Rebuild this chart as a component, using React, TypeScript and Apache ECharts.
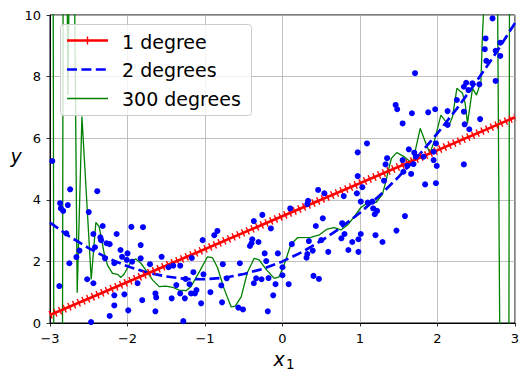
import React, { useEffect, useRef } from "react";
import * as echarts from "echarts";

// ---- data ----
const X_MIN = -3;
const X_MAX = 3;
const Y_MIN = 0;
const Y_MAX = 10;

const SCATTER_X = [
  -2.97, -2.74, -2.39, -2.87, -2.77, -2.86, -2.83, -2.5, -2.32, -1.95, -1.8, -2.79, -2.44, -2.14, -2.35, -2.34,
  -2.27, -2.23, -1.83, -2.42, -2.09, -2.0, -2.62, -2.07, -2.66, -1.56, -1.83, -2.29, -2.01, -1.94, -2.75, -2.17,
  -1.71, -2.52, -2.44, -2.88, -1.87, -2.17, -2.04, -1.64, -1.63, -1.81, -2.17, -1.99, -1.64, -2.23, -2.47,
  -0.26, -0.37, -0.15, -0.84, -0.88, -1.03, -0.39, -0.31, -0.42, -0.4, -1.17, -0.23, -0.06, -1.47, -1.41, -1.32,
  -0.55, -0.77, -0.21, 0.0, -1.15, -1.02, -1.25, -0.72, -0.34, -0.27, -0.18, -1.37, -1.2, -0.37, -0.79, -0.09,
  0.08, -1.32, -1.18, -1.11, -1.13, -0.93, -1.43, -1.26, -0.12, -1.05, -0.78, -0.57, -0.51, -0.19, -1.28,
  0.97, 1.35, 1.33, 1.55, 1.56, 0.97, 0.46, 0.54, 0.33, 0.32, 0.1, 0.79, 0.96, 1.03, 1.01, 1.1, 1.16, 1.17,
  1.22, 1.19, 1.58, 0.52, 0.43, 0.77, 0.8, 0.76, 1.01, 0.98, 1.47, 1.2, 0.9, 1.29, 0.12, 0.34, 0.5, 0.85, 0.98,
  0.59, 0.39, 0.32, 0.31, 0.0, 0.4, 0.47, 1.31, 1.84, 1.98, 2.71, 2.62, 2.61, 2.81, 2.75, 2.81, 2.63, 2.75,
  1.71, 2.37, 2.34, 2.45, 2.54, 2.4, 2.25, 1.46, 1.48, 1.67, 1.88, 1.97, 2.13, 2.34, 1.55, 2.13, 2.35, 2.41,
  2.55, 1.09, 1.98, 1.63, 1.7, 1.72, 1.69, 1.61, 1.66, 1.82, 1.95, 1.95, 1.99, 2.34,
];
const SCATTER_Y = [
  5.26, 4.34, 4.28, 3.89, 3.83, 3.72, 3.64, 3.6, 3.15, 3.12, 3.11, 2.91, 2.89, 2.89, 2.78, 2.69,
  2.59, 2.56, 2.53, 2.46, 2.37, 2.26, 2.35, 2.15, 2.14, 2.15, 2.1, 2.1, 2.05, 1.99, 1.94, 1.94,
  1.91, 1.42, 1.29, 1.2, 1.29, 0.9, 0.93, 0.96, 0.83, 0.74, 0.57, 0.41, 0.38, 0.23, 0.03,
  3.51, 3.31, 3.07, 2.99, 2.85, 2.69, 2.72, 2.63, 2.5, 2.59, 2.11, 2.26, 2.26, 1.81, 1.86, 1.86,
  1.94, 1.91, 2.01, 1.81, 1.65, 1.58, 1.43, 1.45, 1.45, 1.42, 1.46, 1.23, 1.26, 1.29, 1.22, 1.26,
  1.26, 0.96, 0.96, 1.07, 0.96, 1.0, 0.8, 0.8, 0.9, 0.64, 0.67, 0.5, 0.44, 0.38, 0.06,
  5.54, 5.35, 5.15, 5.29, 4.91, 4.77, 4.32, 4.21, 3.97, 3.86, 3.72, 4.12, 4.21, 4.41, 3.94, 3.91, 3.94, 3.72,
  3.64, 3.53, 3.47, 3.4, 3.15, 3.24, 2.89, 2.75, 2.89, 2.72, 3.0, 2.85, 2.63, 2.63, 2.56, 2.66, 2.69, 2.37, 2.31,
  2.31, 2.35, 2.24, 2.12, 1.55, 1.53, 1.43, 4.62, 4.5, 4.54, 9.89, 9.24, 8.89, 9.1, 8.84, 8.67, 8.51, 7.86,
  8.11, 7.8, 7.67, 7.78, 7.75, 7.56, 7.24, 7.08, 6.94, 6.81, 6.84, 6.94, 6.88, 6.86, 6.48, 6.43, 6.45, 6.29,
  6.62, 5.83, 5.83, 5.64, 5.53, 5.4, 5.16, 5.1, 4.84, 5.4, 5.56, 5.29, 5.1, 5.15,
];

// degree-1 fit: end points read at x = -3 and x = 3
const LINEAR_X = [-3, 3];
const LINEAR_Y = [0.26, 6.68];

// degree-2 fit, read every 0.25
const QUAD_X = [
  -3, -2.75, -2.5, -2.25, -2, -1.75, -1.5, -1.25, -1, -0.75, -0.5, -0.25, 0, 0.25, 0.5, 0.75, 1, 1.25, 1.5,
  1.75, 2, 2.25, 2.5, 2.75, 3,
];
const QUAD_Y = [
  3.26, 2.81, 2.43, 2.1, 1.84, 1.64, 1.51, 1.43, 1.42, 1.47, 1.59, 1.76, 2.0, 2.3, 2.67, 3.09, 3.58, 4.13, 4.75,
  5.42, 6.16, 6.96, 7.83, 8.75, 9.74,
];

// degree-300 fit (values outside 0..10 are clipped by the plot frame)
const GREEN_X = [
  -3.0, -2.959, -2.951, -2.839, -2.831, -2.778, -2.77, -2.752, -2.684, -2.649, -2.588, -2.468, -2.408, -2.366,
  -2.301, -2.258, -2.194, -2.129, -2.085, -2.043, -1.956, -1.892, -1.827, -1.763, -1.677, -1.591, -1.505,
  -1.419, -1.333, -1.246, -1.182, -1.075, -0.968, -0.903, -0.839, -0.752, -0.662, -0.61, -0.533, -0.452,
  -0.365, -0.301, -0.214, -0.107, -0.043, 0.022, 0.108, 0.194, 0.366, 0.474, 0.577, 0.667, 0.754, 0.839,
  0.925, 1.012, 1.097, 1.209, 1.29, 1.334, 1.377, 1.406, 1.474, 1.57, 1.677, 1.777, 1.85, 1.902, 1.957,
  2.044, 2.108, 2.151, 2.194, 2.25, 2.323, 2.357, 2.387, 2.452, 2.503, 2.56, 2.581, 2.612, 2.774, 2.805,
  2.921, 2.929, 3.0,
];
const GREEN_Y = [
  30, 11, -1, -1, 11, 11, 7.4, 11, 11, 0.98, 6.7, 1.42, 3.27, 3.13,
  2.26, 1.88, 1.61, 1.58, 1.48, 1.59, 1.99, 2.08, 1.94, 1.72, 1.4, 1.18, 1.2,
  1.16, 1.07, 1.05, 1.18, 1.65, 2.15, 2.12, 1.8, 1.1, 0.52, 0.55, 0.85, 1.65,
  2.1, 2.05, 1.75, 1.45, 1.5, 1.9, 2.55, 2.77, 2.78, 2.86, 3.05, 3.1, 3.02, 3.18,
  3.45, 3.75, 3.9, 3.92, 4.18, 4.6, 5.07, 5.35, 5.53, 5.4, 5.18, 6.32, 5.83, 5.51, 5.89,
  6.75, 6.54, 6.43, 6.7, 7.62, 7.46, 7.13, 6.48, 7.62, 7.4, 7.83, 9.41, 11, 11, -1,
  -1, 11, 30,
];

const LEGEND_LABELS = ["1 degree", "2 degrees", "300 degrees"];

const zip = (xs: number[], ys: number[]) => xs.map((x, i) => [x, ys[i]]);
const fmt = (v: number) => (v < 0 ? "\u2212" + Math.abs(v) : String(v));

const FONT = "DejaVu Sans";

export default function App() {
  const ref = useRef<HTMLDivElement>(null);

  useEffect(() => {
    if (!ref.current) return;
    const chart = echarts.init(ref.current, null, { renderer: "svg" });

    const axisCommon = {
      type: "value" as const,
      axisLine: { show: true, onZero: false, lineStyle: { color: "#000", width: 1 } },
      axisTick: { show: true, inside: false, length: 3.5, lineStyle: { color: "#000", width: 0.8 } },
      splitLine: { show: true, lineStyle: { color: "#b0b0b0", width: 0.8 } },
    };

    const option: any = {
      animation: false,
      backgroundColor: "#ffffff",
      grid: {
        left: 50,
        right: 14,
        top: 15,
        bottom: 58,
        show: true,
        borderColor: "#000",
        borderWidth: 1,
        backgroundColor: "transparent",
      },
      xAxis: {
        ...axisCommon,
        min: X_MIN,
        max: X_MAX,
        interval: 1,
        axisLabel: {
          margin: 9,
          fontSize: 13,
          color: "#000",
          fontFamily: FONT,
          formatter: fmt,
          showMinLabel: true,
          showMaxLabel: true,
        },
      },
      yAxis: {
        ...axisCommon,
        min: Y_MIN,
        max: Y_MAX,
        interval: 2,
        axisLabel: {
          margin: 9,
          fontSize: 13,
          color: "#000",
          fontFamily: FONT,
          formatter: fmt,
          showMinLabel: true,
          showMaxLabel: true,
        },
      },
      series: [
        {
          name: LEGEND_LABELS[2],
          type: "line",
          data: zip(GREEN_X, GREEN_Y),
          symbol: "none",
          clip: true,
          lineStyle: { color: "#008000", width: 1.3 },
          z: 2,
        },
        {
          name: LEGEND_LABELS[1],
          type: "line",
          data: zip(QUAD_X, QUAD_Y),
          symbol: "none",
          clip: true,
          lineStyle: { color: "#0000ff", width: 2.7, type: [10, 4.4] },
          z: 3,
        },
        {
          name: LEGEND_LABELS[0],
          type: "line",
          data: zip(LINEAR_X, LINEAR_Y),
          symbol: "none",
          clip: true,
          lineStyle: { color: "#ff0000", width: 2.7 },
          z: 4,
        },
        {
          name: LEGEND_LABELS[0] + " markers",
          type: "line",
          data: zip(LINEAR_X, LINEAR_Y),
          symbol: "none",
          clip: true,
          lineStyle: { color: "#ff0000", width: 8, type: [1.4, 3.7] },
          z: 4,
        },
        {
          name: "data",
          type: "scatter",
          data: zip(SCATTER_X, SCATTER_Y),
          symbol: "circle",
          symbolSize: 6,
          itemStyle: { color: "#0000ff", opacity: 1 },
          z: 5,
        },
      ],
      graphic: [
        {
          type: "rect",
          z: 100,
          shape: { x: 60.5, y: 24.5, width: 191, height: 91, r: 3 },
          style: { fill: "rgba(255,255,255,0.8)", stroke: "#cccccc", lineWidth: 1 },
        },
        {
          type: "line",
          z: 101,
          shape: { x1: 67, y1: 40.5, x2: 108, y2: 40.5 },
          style: { stroke: "#ff0000", lineWidth: 2.7 },
        },
        {
          type: "line",
          z: 101,
          shape: { x1: 87.5, y1: 36.5, x2: 87.5, y2: 44.5 },
          style: { stroke: "#ff0000", lineWidth: 1.4 },
        },
        {
          type: "line",
          z: 101,
          shape: { x1: 67, y1: 69.5, x2: 108, y2: 69.5 },
          style: { stroke: "#0000ff", lineWidth: 2.7, lineDash: [10, 4.4] },
        },
        {
          type: "line",
          z: 101,
          shape: { x1: 67, y1: 98.5, x2: 108, y2: 98.5 },
          style: { stroke: "#008000", lineWidth: 1.3 },
        },
        ...LEGEND_LABELS.map((t, i) => ({
          type: "text",
          z: 101,
          x: 122,
          y: 41.5 + i * 28.8,
          style: {
            text: t,
            fontSize: 19,
            fontFamily: FONT,
            fill: "#000",
            align: "left",
            verticalAlign: "middle",
          },
        })),
        {
          type: "text",
          z: 101,
          x: 16,
          y: 155.5,
          style: {
            text: "y",
            fontSize: 19,
            fontStyle: "italic",
            fontFamily: FONT,
            fill: "#000",
            align: "center",
            verticalAlign: "middle",
          },
        },
        {
          type: "text",
          z: 101,
          x: 279,
          y: 358.5,
          style: {
            text: "x",
            fontSize: 19,
            fontStyle: "italic",
            fontFamily: FONT,
            fill: "#000",
            align: "center",
            verticalAlign: "middle",
          },
        },
        {
          type: "text",
          z: 101,
          x: 286,
          y: 363.5,
          style: {
            text: "1",
            fontSize: 13.5,
            fontFamily: FONT,
            fill: "#000",
            align: "left",
            verticalAlign: "middle",
          },
        },
      ],
    };

    chart.setOption(option);
    return () => chart.dispose();
  }, []);

  return (
    <div
      ref={ref}
      style={{ position: "fixed", left: 0, top: 0, width: 529, height: 381, background: "#fff" }}
    />
  );
}
